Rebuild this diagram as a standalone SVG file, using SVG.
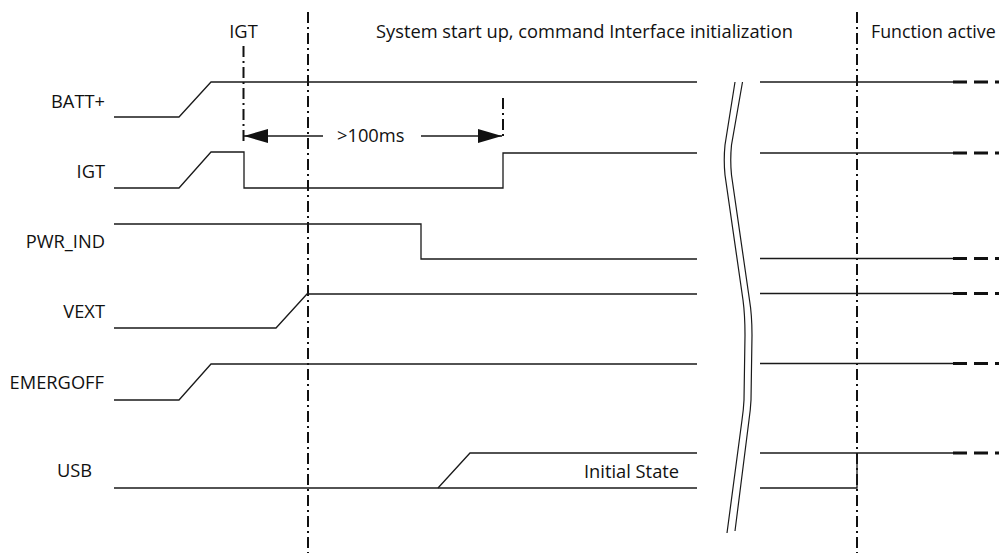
<svg xmlns="http://www.w3.org/2000/svg" width="999" height="553" viewBox="0 0 999 553">
<defs>
<style>
.sig{fill:none;stroke:#1a1a1a;stroke-width:1.3;stroke-linejoin:miter}
.dash{fill:none;stroke:#111;stroke-width:2.8;stroke-dasharray:14 7}
.dd{fill:none;stroke:#111;stroke-width:2;stroke-dasharray:11 4 2 4}
.brk{fill:none;stroke:#1a1a1a;stroke-width:1.2}
.lbl{font-family:"Open Sans","Noto Sans","Liberation Sans",sans-serif;font-size:18.3px;fill:#111}
.arr{fill:none;stroke:#1a1a1a;stroke-width:1.3}
</style>
<marker id="ah" markerWidth="24" markerHeight="16" refX="24" refY="8" orient="auto" markerUnits="userSpaceOnUse">
<path d="M0,1 L24,8 L0,15 Z" fill="#111"/>
</marker>
</defs>
<rect width="999" height="553" fill="#fff"/>

<g id="headers">
<text class="lbl" x="243.5" y="38" text-anchor="middle">IGT</text>
<text class="lbl" x="376" y="38">System start up, command Interface initialization</text>
<text class="lbl" x="871" y="38" style="font-size:17.8px">Function active</text>
</g>

<g id="phase-lines">
<line class="dd" x1="308" y1="12" x2="308" y2="553"/>
<line class="dd" x1="857" y1="12" x2="857" y2="553"/>
<line class="dd" x1="243.5" y1="46" x2="243.5" y2="142"/>
<line class="dd" x1="503" y1="98" x2="503" y2="138"/>
</g>

<g id="batt">
<text class="lbl" x="105" y="108" text-anchor="end">BATT+</text>
<polyline class="sig" points="114,117 179,117 211,82 697,82"/>
<line class="sig" x1="760" y1="82" x2="954" y2="82"/>
<line class="dash" x1="953" y1="82" x2="999" y2="82"/>
</g>

<g id="igt">
<text class="lbl" x="105" y="178" text-anchor="end">IGT</text>
<polyline class="sig" points="114,188 179,188 211,152 244,152 244,188 503,188 503,153 697,153"/>
<line class="sig" x1="760" y1="153" x2="954" y2="153"/>
<line class="dash" x1="953" y1="153" x2="999" y2="153"/>
</g>

<g id="pwr_ind">
<text class="lbl" x="105" y="248" text-anchor="end">PWR_IND</text>
<polyline class="sig" points="114,224 421,224 421,259 697,259"/>
<line class="sig" x1="760" y1="258.5" x2="954" y2="258.5"/>
<line class="dash" x1="953" y1="258.5" x2="999" y2="258.5"/>
</g>

<g id="vext">
<text class="lbl" x="105" y="318" text-anchor="end">VEXT</text>
<polyline class="sig" points="114,328 276,328 307,294 697,294"/>
<line class="sig" x1="760" y1="293.5" x2="954" y2="293.5"/>
<line class="dash" x1="953" y1="293.5" x2="999" y2="293.5"/>
</g>

<g id="emergoff">
<text class="lbl" x="104" y="389" text-anchor="end">EMERGOFF</text>
<polyline class="sig" points="114,400 179,400 211,364 697,364"/>
<line class="sig" x1="760" y1="363.5" x2="954" y2="363.5"/>
<line class="dash" x1="953" y1="363.5" x2="999" y2="363.5"/>
</g>

<g id="usb">
<text class="lbl" x="57" y="477">USB</text>
<polyline class="sig" points="114,488 697,488"/>
<polyline class="sig" points="438,488 470,453 697,453"/>
<text class="lbl" x="584" y="477.5">Initial State</text>
<line class="sig" x1="760" y1="453" x2="954" y2="453"/>
<polyline class="sig" points="760,488 857,488 857,453"/>
<line class="dash" x1="953" y1="453" x2="999" y2="453"/>
</g>

<g id="break">
<path class="brk" d="M735,82 L725,145 Q723.5,160 725,175 L743,300 Q745,315 745,335 L744,400 Q743.5,410 742,420 L727,533"/>
<path class="brk" d="M742.5,82 L731.5,145 Q730,160 731.5,175 L749.5,300 Q752,315 752,335 L751,400 Q750.5,410 749,420 L735,531"/>
</g>

<g id="connectors">
<line class="arr" x1="323" y1="136" x2="244" y2="136" marker-end="url(#ah)"/>
<line class="arr" x1="421" y1="136" x2="502" y2="136" marker-end="url(#ah)"/>
<text class="lbl" x="337" y="142">&gt;100ms</text>
</g>
</svg>
